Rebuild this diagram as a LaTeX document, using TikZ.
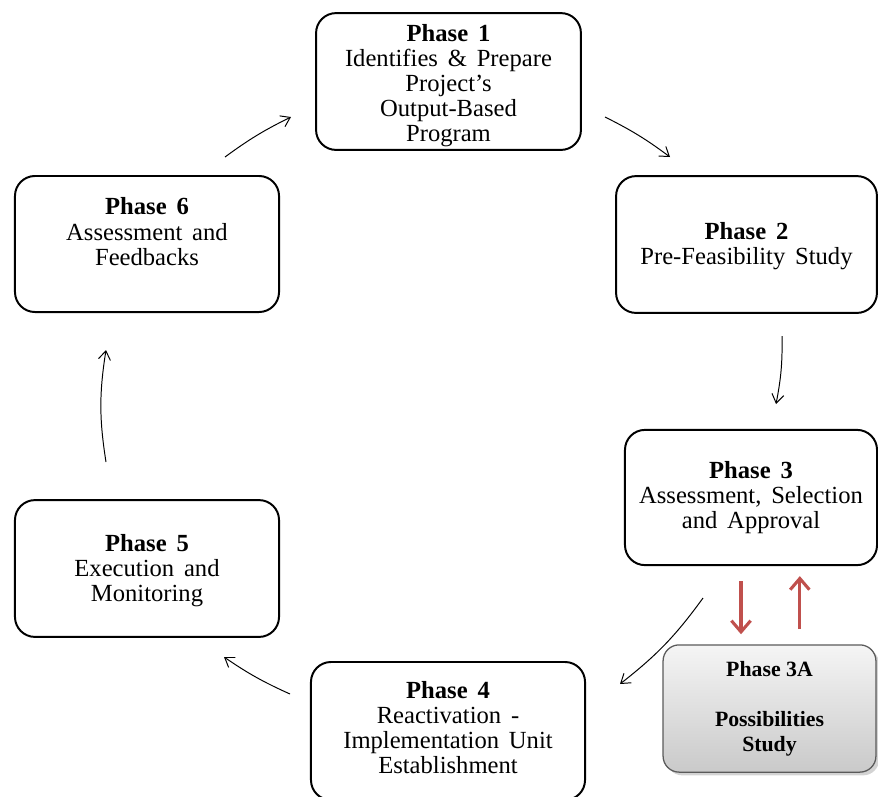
\documentclass[tikz,border=0pt]{standalone}
\usepackage{fontspec}
\setmainfont{Liberation Serif}
\usepackage{tikz}
\usetikzlibrary{arrows.meta,shadows}
\definecolor{phasered}{RGB}{192, 80, 77}
\definecolor{boxgray}{RGB}{90, 90, 90}
\newcommand{\phasefont}{\fontsize{17.5}{17.8}\selectfont\spaceskip=0.4em plus 0.1em\relax}

\begin{document}
\begin{tikzpicture}[x=0.025cm, y=-0.025cm,
    phase/.style = {draw, line width=1.4pt, rounded corners=0.5cm, align=center,
                    inner sep=0pt, font=\phasefont},
    flow/.style = {-{Straight Barb[length=2.2mm,width=3mm]}, line width=0.7pt},
    redflow/.style = {-{Straight Barb[length=2.8mm,width=4.8mm]}, line width=2.2pt, draw=phasered}]
			\useasboundingbox (0,0) rectangle (878,796);
			\node (p1) at (448.5,81.5) [phase, minimum width=6.62cm, minimum height=3.42cm] {\rule{0pt}{18.5pt}\textbf{Phase 1}\\Identifies \& Prepare\\Project's\\Output-Based\\Program};
			\node (p2) at (746.5,244.5) [phase, minimum width=6.52cm, minimum height=3.42cm] {\rule{0pt}{15pt}\textbf{Phase 2}\\Pre-Feasibility Study};
			\node (p3) at (751,497.5) [phase, minimum width=6.3cm, minimum height=3.38cm] {\textbf{Phase 3}\\Assessment, Selection\\and Approval};
			\node (p4) at (448,731) [phase, minimum width=6.85cm, minimum height=3.45cm] {\textbf{Phase 4}\\Reactivation -\\Implementation Unit\\Establishment\rule[-5.7pt]{0pt}{0pt}};
			\node (p5) at (147,568.5) [phase, minimum width=6.6cm, minimum height=3.42cm] {\rule{0pt}{15.7pt}\textbf{Phase 5}\\Execution and\\Monitoring};
			\node (p6) at (147,244) [phase, minimum width=6.6cm, minimum height=3.4cm] {\textbf{Phase 6}\\Assessment and\\Feedbacks\\\mbox{}};
			\node (p3a) at (769.5,708.5) [phase, line width=0.9pt, draw=boxgray, rounded corners=0.4cm,
			      top color=gray!8, bottom color=gray!42, drop shadow={opacity=0.35},
			      minimum width=5.32cm, minimum height=3.18cm, font=\fontsize{15.5}{17.8}\selectfont\bfseries]
			      {Phase 3A\\\mbox{}\\Possibilities\\Study};
			% free ends of the cycle arrows
			\coordinate (s61) at (225,157);
			\coordinate (e61) at (291,117);
			\coordinate (s12) at (605,117);
			\coordinate (e12) at (670,157);
			\coordinate (s23) at (782,336);
			\coordinate (e23) at (776,404);
			\coordinate (s34) at (703,598);
			\coordinate (e34) at (620,684);
			\coordinate (s45) at (290,694);
			\coordinate (e45) at (224,657);
			\coordinate (s56) at (106,462);
			\coordinate (e56) at (106,350);
			\draw[flow] (s61) to[bend left=5] (e61);
			\draw[flow] (s12) to[bend left=5] (e12);
			\draw[flow] (s23) to[bend left=6] (e23);
			\draw[flow] (s34) to[bend left=8] (e34);
			\draw[flow] (s45) to[bend left=5] (e45);
			\draw[flow] (s56) to[bend left=9] (e56);
			\draw[redflow, shorten <=0.38cm, shorten >=0.25cm] ([xshift=-0.25cm]p3.south) -- ([xshift=-0.25cm]p3.south |- p3a.north);
			\draw[redflow, shorten <=0.38cm, shorten >=0.25cm] ([xshift=1.22cm]p3.south |- p3a.north) -- ([xshift=1.22cm]p3.south);
\end{tikzpicture}
\end{document}
